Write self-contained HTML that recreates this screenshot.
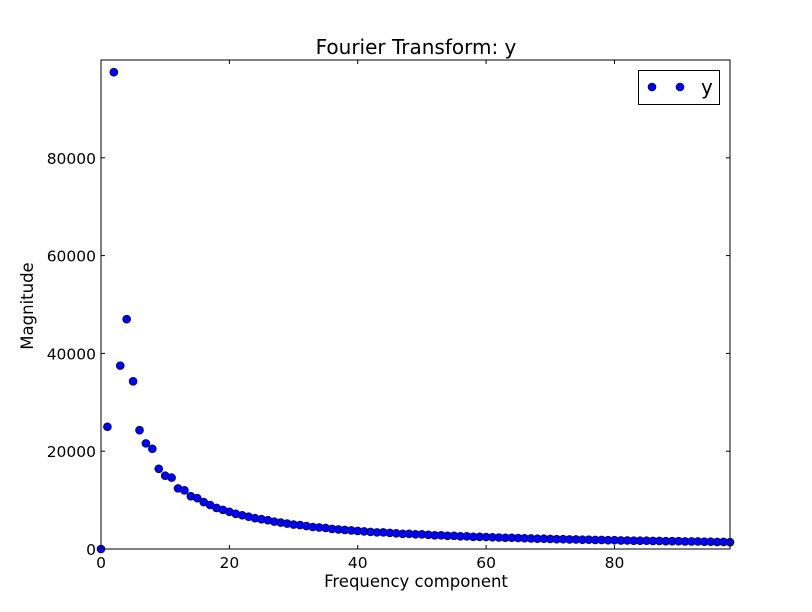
<!DOCTYPE html>
<html><head><meta charset="utf-8">
<style>
html,body{margin:0;padding:0;background:#fff;}
svg{display:block;font-family:"DejaVu Sans","Liberation Sans",sans-serif;}
</style></head>
<body>
<svg id="chart" width="812" height="612" viewBox="0 0 812 612">
<rect x="0" y="0" width="812" height="612" fill="#fff"/>
<text x="416" y="54" font-size="20" text-anchor="middle">Fourier Transform: y</text>
<text x="416" y="587" font-size="16.5" text-anchor="middle">Frequency component</text>
<text x="33" y="306" font-size="16.5" text-anchor="middle" transform="rotate(-90 33 306)">Magnitude</text>
<g id="ticks"></g>
<g id="points"></g>
<rect x="101" y="60" width="629" height="489" fill="none" stroke="#000" stroke-width="1"/>
<g>
<rect x="638.5" y="70.5" width="81" height="34" fill="#fff" stroke="#000"/>
<circle cx="652" cy="87" r="4" fill="#0000ff" stroke="#000" stroke-width="0.6"/>
<circle cx="680" cy="87" r="4" fill="#0000ff" stroke="#000" stroke-width="0.6"/>
<text x="701" y="94" font-size="20">y</text>
</g>
</svg>
<script>
const magnitudes = [0,25000,97500,37500,47000,34300,24300,21600,20500,16400,15000,14600,12400,12000,10800,10400,9600,9000,8400,8000,7600,
7200,6900,6600,6300,6100,5900,5600,5400,5200,5000,4900,4700,4500,4400,4300,4100,4000,3900,3800,3700,3600,3500,3400,3400,3300,3200,3100,3100,3000,3000,
2900,2800,2800,2700,2700,2600,2600,2500,2500,2450,2400,2350,2300,2300,2250,2200,2150,2100,2100,2050,2000,2000,1950,1950,1900,1900,1850,1850,1800,1800,
1750,1750,1700,1700,1700,1650,1650,1600,1600,1600,1550,1550,1550,1500,1500,1450,1450,1400];
const xTicks = [0,20,40,60,80];
const yTicks = [0,20000,40000,60000,80000];
const X0=101,X1=730,Y0=549,Y1=60,XMAX=98,YMAX=100000;
const sx=v=>X0+(X1-X0)*v/XMAX;
const sy=v=>Y0-(Y0-Y1)*v/YMAX;
const NS="http://www.w3.org/2000/svg";
const tg=document.getElementById('ticks');
function mk(tag,attrs,parent){const e=document.createElementNS(NS,tag);for(const k in attrs)e.setAttribute(k,attrs[k]);parent.appendChild(e);return e;}
xTicks.forEach(t=>{
  const x=sx(t);
  const l1=mk('line',{x1:x,y1:Y0,x2:x,y2:Y0-4,stroke:'#000'},tg);
  
  
  const l2=mk('line',{x1:x,y1:Y1,x2:x,y2:Y1+4,stroke:'#000'},tg);
  
  
  const tx=mk('text',{x:x,y:Y0+19,'font-size':15.5,'text-anchor':'middle'},tg);
  tx.textContent=t;
  
  
});
yTicks.forEach(t=>{
  const y=sy(t);
  const l1=mk('line',{x1:X0,y1:y,x2:X0+4,y2:y,stroke:'#000'},tg);
  
  
  const l2=mk('line',{x1:X1,y1:y,x2:X1-4,y2:y,stroke:'#000'},tg);
  
  
  const tx=mk('text',{x:X0-5,y:y+6,'font-size':15.5,'text-anchor':'end'},tg);
  tx.textContent=t;
  
  
});
const pg=document.getElementById('points');
magnitudes.forEach((v,i)=>{
  const c=mk('circle',{cx:sx(i),cy:sy(v),r:4,fill:'#0000ff',stroke:'#000','stroke-width':0.6},pg);
  
  
});
</script>
</body></html>
